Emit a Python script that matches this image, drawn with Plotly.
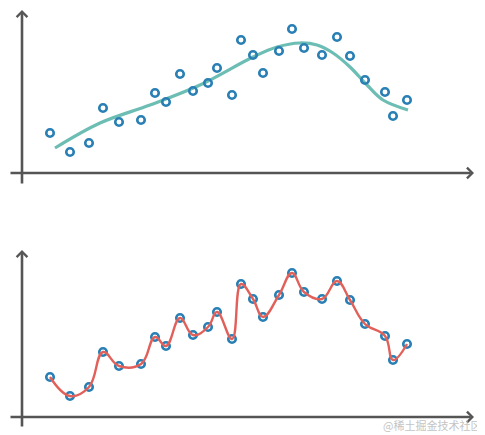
import plotly.graph_objects as go

# Observed samples (shared by both panels)
x_pts = [2.8, 4.8, 6.7, 8.1, 9.7, 11.9, 13.3, 14.4, 15.8, 17.1, 18.6, 19.5, 21.0,
         21.9, 23.1, 24.1, 25.7, 27.0, 28.2, 30.0, 31.5, 32.8, 34.3, 36.3, 37.1, 38.5]
y_pts = [4.0, 2.1, 3.0, 6.5, 5.1, 5.3, 8.0, 7.1, 9.9, 8.2, 9.0, 10.5, 7.8,
         13.3, 11.8, 10.0, 12.2, 14.4, 12.5, 11.8, 13.6, 11.7, 9.3, 8.1, 5.7, 7.3]

# Smooth fitted curve (top panel)
x_fit = [3.3, 7.8, 12.8, 17.8, 23.1, 25.5, 27.8, 29.5, 31.1, 32.8, 34.5, 36.1, 38.6]
y_fit = [2.5, 5.0, 6.8, 8.8, 11.6, 12.6, 13.0, 12.8, 12.0, 10.6, 8.8, 7.3, 6.3]

PT = "#2a80b4"
TEAL = "#6cbdb3"
RED = "#e2605a"
AX = "#555555"

fig = go.Figure()

# top panel
fig.add_trace(go.Scatter(x=x_fit, y=y_fit, mode="lines", line=dict(color=TEAL, width=3.2, shape="spline", smoothing=1.0),
                         xaxis="x", yaxis="y", hoverinfo="skip"))
fig.add_trace(go.Scatter(x=x_pts, y=y_pts, mode="markers",
                         marker=dict(symbol="circle-open", size=7.5, color=PT, line=dict(width=2.6, color=PT)),
                         xaxis="x", yaxis="y"))

# bottom panel
fig.add_trace(go.Scatter(x=x_pts, y=y_pts, mode="markers",
                         marker=dict(symbol="circle-open", size=7.5, color=PT, line=dict(width=2.6, color=PT)),
                         xaxis="x2", yaxis="y2"))
fig.add_trace(go.Scatter(x=x_pts, y=y_pts, mode="lines", line=dict(color=RED, width=2.4, shape="spline", smoothing=1.2),
                         xaxis="x2", yaxis="y2", hoverinfo="skip"))

ann = []
for xr, yr, ybot, ytop in [("x", "y", -1.2, 16.3), ("x2", "y2", -1.1, 16.7)]:
    # y-axis arrow
    ann.append(dict(x=0, y=ytop, ax=0, ay=ybot, xref=xr, yref=yr, axref=xr, ayref=yr,
                    showarrow=True, arrowhead=4, arrowsize=0.8, arrowwidth=2.6, arrowcolor=AX,
                    text="", standoff=0, startstandoff=0))
    # x-axis arrow
    ann.append(dict(x=45.2, y=0, ax=-1.3, ay=0, xref=xr, yref=yr, axref=xr, ayref=yr,
                    showarrow=True, arrowhead=4, arrowsize=0.8, arrowwidth=2.6, arrowcolor=AX,
                    text="", standoff=0, startstandoff=0))

ann.append(dict(x=0.995, y=0.0, xref="paper", yref="paper", xanchor="right", yanchor="bottom",
                text="@稀土掘金技术社区", showarrow=False,
                font=dict(family="Noto Sans CJK SC", size=11, color="#c4c4c4")))

axis_off = dict(visible=False, showgrid=False, zeroline=False, fixedrange=True)

fig.update_layout(
    width=477, height=427,
    margin=dict(l=0, r=0, t=0, b=0),
    paper_bgcolor="white", plot_bgcolor="white",
    showlegend=False,
    xaxis=dict(domain=[0, 1], range=[-1.4, 46.3], anchor="y", **axis_off),
    yaxis=dict(domain=[0.5, 1], range=[-4.85, 16.5], anchor="x", **axis_off),
    xaxis2=dict(domain=[0, 1], range=[-1.4, 46.3], anchor="y2", **axis_off),
    yaxis2=dict(domain=[0, 0.5], range=[-1.8, 19.55], anchor="x2", **axis_off),
    annotations=ann,
)

fig.write_html("out.html")
